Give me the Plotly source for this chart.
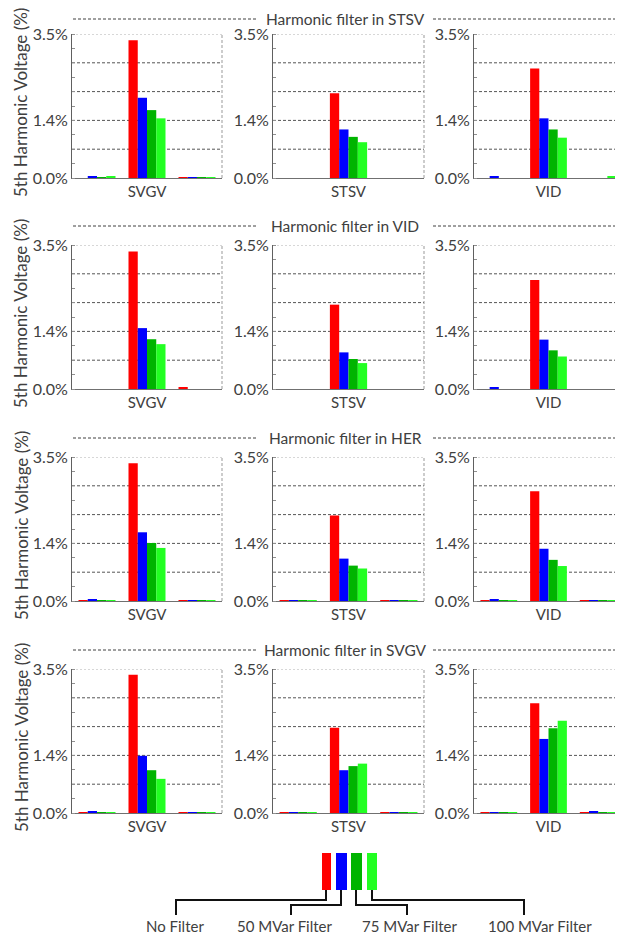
import plotly.graph_objects as go

# page body adds an 8px offset; figure fills the rest of the 623x936 window
OFF = 8
W, H = 623 - OFF, 936 - OFF

series_names = ["No Filter", "50 MVar Filter", "75 MVar Filter", "100 MVar Filter"]
series_colors = ["#FF0000", "#0000FF", "#00B400", "#22FF22"]
buses = ["SVGV", "STSV", "VID"]
row_titles = ["Harmonic filter in STSV", "Harmonic filter in VID",
              "Harmonic filter in HER", "Harmonic filter in SVGV"]

# values in %, per row: 3 panels x 3 bar groups (left, labelled centre, right)
stsv_no_filter = [0.00, 3.35, 0.02, 0.00, 2.06, 0.00, 0.00, 2.66, 0.00]
stsv_50mvar    = [0.03, 1.95, 0.02, 0.00, 1.18, 0.00, 0.03, 1.45, 0.00]
stsv_75mvar    = [0.02, 1.65, 0.02, 0.00, 1.00, 0.00, 0.00, 1.18, 0.00]
stsv_100mvar   = [0.03, 1.45, 0.02, 0.00, 0.87, 0.00, 0.00, 0.98, 0.03]

vid_no_filter  = [0.00, 3.34, 0.04, 0.00, 2.05, 0.00, 0.00, 2.65, 0.00]
vid_50mvar     = [0.00, 1.48, 0.00, 0.00, 0.89, 0.00, 0.03, 1.20, 0.00]
vid_75mvar     = [0.00, 1.21, 0.00, 0.00, 0.73, 0.00, 0.00, 0.94, 0.00]
vid_100mvar    = [0.00, 1.09, 0.00, 0.00, 0.63, 0.00, 0.00, 0.79, 0.00]

her_no_filter  = [0.02, 3.35, 0.02, 0.02, 2.08, 0.02, 0.02, 2.67, 0.02]
her_50mvar     = [0.03, 1.67, 0.02, 0.02, 1.03, 0.02, 0.03, 1.27, 0.02]
her_75mvar     = [0.02, 1.41, 0.02, 0.02, 0.86, 0.02, 0.02, 1.00, 0.02]
her_100mvar    = [0.02, 1.29, 0.02, 0.02, 0.79, 0.02, 0.02, 0.85, 0.02]

svgv_no_filter = [0.02, 3.36, 0.02, 0.02, 2.07, 0.02, 0.02, 2.67, 0.02]
svgv_50mvar    = [0.03, 1.39, 0.02, 0.02, 1.04, 0.02, 0.02, 1.80, 0.03]
svgv_75mvar    = [0.02, 1.04, 0.02, 0.02, 1.14, 0.02, 0.02, 2.06, 0.02]
svgv_100mvar   = [0.02, 0.83, 0.02, 0.02, 1.20, 0.02, 0.02, 2.24, 0.02]

rows_data = [
    [stsv_no_filter, stsv_50mvar, stsv_75mvar, stsv_100mvar],
    [vid_no_filter, vid_50mvar, vid_75mvar, vid_100mvar],
    [her_no_filter, her_50mvar, her_75mvar, her_100mvar],
    [svgv_no_filter, svgv_50mvar, svgv_75mvar, svgv_100mvar],
]

y_ticks = [0.0, 1.4, 3.5]
y_ticktext = ["0.0%", "1.4%", "3.5%"]
grid_vals = [0.7, 1.4, 2.1, 2.8]

FONT = "Lato, 'Open Sans', sans-serif"
TXT = "#404040"

def px(x):
    return (x - OFF) / W

def py(y):
    return 1 - (y - OFF) / H

col_px = [(72, 222), (273, 424), (474, 623)]
row_px = [(34, 178), (245, 389), (457, 601), (669, 813)]

fig = go.Figure()
layout = dict(
    width=W, height=H, autosize=False,
    margin=dict(l=0, r=0, t=0, b=0, pad=0),
    paper_bgcolor="white", plot_bgcolor="white",
    barmode="group", bargap=0.26, bargroupgap=0,
    showlegend=False,
    font=dict(family=FONT, color=TXT, size=14),
)
shapes = []
annotations = []

for r in range(4):
    for c in range(3):
        idx = r * 3 + c + 1
        xa = "x" if idx == 1 else f"x{idx}"
        ya = "y" if idx == 1 else f"y{idx}"
        for s in range(4):
            vals = rows_data[r][s][c * 3:(c + 1) * 3]
            fig.add_trace(go.Bar(
                x=[0, 1, 2], y=vals, xaxis=xa, yaxis=ya,
                name=series_names[s], marker=dict(color=series_colors[s], line=dict(width=0)),
                hoverinfo="y+name",
            ))
        xkey = "xaxis" if idx == 1 else f"xaxis{idx}"
        ykey = "yaxis" if idx == 1 else f"yaxis{idx}"
        x0, x1 = col_px[c]
        yt, yb = row_px[r]
        layout[xkey] = dict(
            domain=[px(x0), min(px(x1), 1.0)], anchor=ya, range=[-0.5, 2.5], automargin=False,
            tickvals=[1], ticktext=[buses[c]], ticks="", showgrid=False,
            showline=True, linecolor="#707070", linewidth=1, zeroline=False,
            tickfont=dict(size=15, color=TXT, family=FONT), fixedrange=True,
        )
        layout[ykey] = dict(
            domain=[py(yb), py(yt)], anchor=xa, range=[0, 3.5], automargin=False,
            tickvals=y_ticks, ticktext=y_ticktext, showgrid=False, zeroline=False,
            showline=True, linecolor="#606060", linewidth=1, ticks="",
            tickfont=dict(size=16, color=TXT, family=FONT), fixedrange=True,
            minor=dict(dtick=0.35, tick0=0, ticks="inside", ticklen=3, tickcolor="#909090", showgrid=False),
        )
        for v in grid_vals:
            shapes.append(dict(type="line", xref=f"{xa} domain", yref=ya, x0=0, x1=1, y0=v, y1=v,
                               line=dict(color="#555555", width=1, dash="3px,2px"), layer="below"))
        shapes.append(dict(type="line", xref=f"{xa} domain", yref=ya, x0=0, x1=1, y0=3.5, y1=3.5,
                           line=dict(color="#b0b0b0", width=1, dash="2px,2px"), layer="below"))
        shapes.append(dict(type="line", xref=f"{xa} domain", yref=ya, x0=1, x1=1, y0=0, y1=3.5,
                           line=dict(color="#999999", width=1, dash="3px,2px"), layer="below"))

    # row title with dashed side lines
    title_y = max(row_px[r][0] - 19, 19)
    annotations.append(dict(x=px(345), y=py(title_y), xref="paper", yref="paper",
                            text=row_titles[r], showarrow=False, xanchor="center", yanchor="middle",
                            borderpad=0, font=dict(size=15.5, color=TXT, family=FONT)))
    shapes.append(dict(type="line", xref="paper", yref="paper", x0=px(73), x1=px(257),
                       y0=py(title_y), y1=py(title_y), line=dict(color="#404040", width=1, dash="3px,2px")))
    shapes.append(dict(type="line", xref="paper", yref="paper", x0=px(433), x1=1.0,
                       y0=py(title_y), y1=py(title_y), line=dict(color="#404040", width=1, dash="3px,2px")))
    # y axis title
    annotations.append(dict(x=px(21), y=py((row_px[r][0] + row_px[r][1]) / 2 - 3), xref="paper", yref="paper",
                            text="5th Harmonic Voltage (%)", textangle=-90, showarrow=False,
                            xanchor="center", yanchor="middle", font=dict(size=17, color=TXT, family=FONT)))

# legend: colour blocks with connector lines to labels
blocks = [(322, 331), (336, 347), (351, 362), (367, 377)]
for (bx0, bx1), col in zip(blocks, series_colors):
    shapes.append(dict(type="rect", xref="paper", yref="paper", x0=px(bx0), x1=px(bx1),
                       y0=py(890), y1=py(853), fillcolor=col, line=dict(width=0)))

connectors = [
    [(326, 890), (326, 900), (176, 900), (176, 915)],
    [(341, 890), (341, 905), (291, 905), (291, 915)],
    [(356, 890), (356, 905), (407, 905), (407, 915)],
    [(372, 890), (372, 900), (524, 900), (524, 915)],
]
for pts in connectors:
    path = "M " + " L ".join(f"{px(x)},{py(y)}" for x, y in pts)
    shapes.append(dict(type="path", xref="paper", yref="paper", path=path,
                       line=dict(color="#111111", width=2)))

label_x = [175, 285, 410, 540]
for name, lx in zip(series_names, label_x):
    annotations.append(dict(x=px(lx), y=py(926), xref="paper", yref="paper", text=name,
                            showarrow=False, xanchor="center", yanchor="middle",
                            font=dict(size=15, color=TXT, family=FONT)))

layout["shapes"] = shapes
layout["annotations"] = annotations
fig.update_layout(**layout)
fig.write_html("out.html")
